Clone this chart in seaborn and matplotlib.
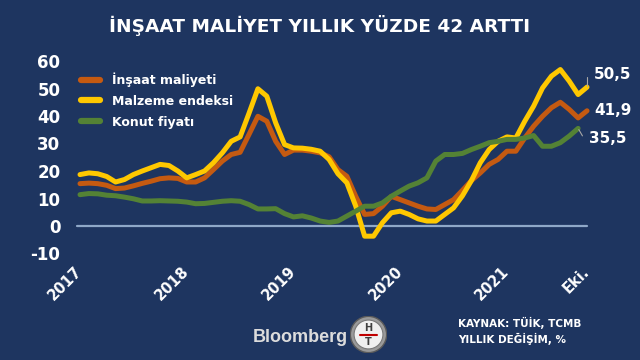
import pandas as pd
import matplotlib.pyplot as plt
import seaborn as sns
from matplotlib.patches import Circle

# =========================
# DATA (yearly % change, Jan 2017 - Oct 2021)
# =========================

insaat_maliyeti = [
    15.4, 15.6, 15.4, 14.8, 13.6, 13.8, 14.6, 15.5, 16.3, 17.2, 17.5, 17.3,
    16.0, 16.0, 17.5, 20.5, 23.6, 26.0, 26.8, 33.3, 39.9, 38.1, 30.8, 26.0,
    27.6, 27.6, 27.2, 26.6, 25.2, 20.5, 18.1, 10.8, 4.2, 4.5, 7.2, 10.8,
    9.6, 8.4, 7.2, 6.2, 6.0, 7.8, 9.6, 13.0, 16.5, 19.3, 22.4, 24.2,
    27.2, 27.2, 32.0, 36.3, 39.9, 43.0, 45.0, 42.4, 39.3, 41.9,
]

malzeme_endeksi = [
    18.7, 19.3, 19.0, 18.0, 16.0, 16.9, 18.7, 20.0, 21.2, 22.4, 22.0, 20.0,
    17.5, 18.7, 20.0, 23.0, 26.6, 30.8, 32.4, 41.0, 49.9, 47.2, 37.5, 29.6,
    28.4, 28.3, 27.9, 27.2, 24.2, 19.0, 15.7, 7.2, -3.7, -3.7, 1.2, 4.8,
    5.4, 4.2, 2.6, 1.8, 1.8, 4.2, 6.6, 11.0, 16.5, 23.0, 27.8, 30.8,
    32.4, 32.0, 38.1, 43.6, 50.2, 54.5, 56.9, 52.7, 47.8, 50.5,
]

# konut fiyatı ends one month earlier (Sep 2021)
konut_fiyati = [
    11.4, 11.8, 11.7, 11.2, 11.0, 10.5, 9.9, 9.1, 9.1, 9.2, 9.1, 9.0,
    8.7, 8.1, 8.2, 8.6, 9.0, 9.2, 9.0, 7.8, 6.2, 6.2, 6.3, 4.5,
    3.3, 3.7, 2.9, 1.8, 1.3, 1.8, 3.6, 5.4, 7.2, 7.2, 8.4, 10.8,
    12.7, 14.5, 15.7, 17.5, 23.6, 26.0, 26.0, 26.4, 27.8, 29.0, 30.3, 30.8,
    31.5, 31.5, 32.0, 32.9, 29.0, 29.0, 30.3, 32.7, 35.5,
]

series_names = ["İnşaat maliyeti", "Malzeme endeksi", "Konut fiyatı"]
series_colors = ["#C55A11", "#FFC800", "#548235"]
end_labels = ["41,9", "50,5", "35,5"]

tick_months = [0, 12, 24, 36, 48, 57]
tick_labels = ["2017", "2018", "2019", "2020", "2021", "Eki."]
y_ticks = [-10, 0, 10, 20, 30, 40, 50, 60]

# =========================
# LONG TABLE FOR SEABORN
# =========================

frames = []
for name, values in zip(series_names, [insaat_maliyeti, malzeme_endeksi, konut_fiyati]):
    frames.append(pd.DataFrame({
        "ay": range(len(values)),
        "deger": values,
        "seri": name,
    }))
df = pd.concat(frames, ignore_index=True)

# =========================
# STYLE
# =========================

bg = "#1E3560"
sns.set_theme(style="dark")
plt.rcParams["font.family"] = ["DejaVu Sans"]
plt.rcParams["axes.unicode_minus"] = False

fig = plt.figure(figsize=(6.4, 3.6), dpi=100, facecolor=bg)
ax = fig.add_axes([70 / 640, 1 - 265 / 360, 530 / 640, 220 / 360])
ax.set_facecolor(bg)

# zero line
ax.axhline(0, xmin=0.013, xmax=0.975, color="#8FA8C8", lw=1.6, zorder=1)

sns.lineplot(
    data=df,
    x="ay",
    y="deger",
    hue="seri",
    hue_order=series_names,
    palette=series_colors,
    linewidth=3.6,
    ax=ax,
    zorder=3,
)

for line in ax.get_lines()[1:]:
    line.set_solid_joinstyle("round")
    line.set_solid_capstyle("round")

# =========================
# AXES
# =========================

ax.set_xlim(-10 / 8.895, 520 / 8.895)
ax.set_ylim((226 - 265) / 2.75, (226 - 45) / 2.75)

ax.set_xticks(tick_months)
ax.set_xticklabels(tick_labels, rotation=45, ha="right", va="center",
                   rotation_mode="anchor")
ax.set_yticks(y_ticks)
ax.set_yticklabels([str(v) for v in y_ticks])

ax.tick_params(axis="y", colors="white", labelsize=12, length=0, pad=7)
ax.tick_params(axis="x", colors="white", labelsize=10.5, length=0, pad=3)
for lab in ax.get_xticklabels() + ax.get_yticklabels():
    lab.set_fontweight("bold")

ax.set_xlabel("")
ax.set_ylabel("")
ax.grid(False)
sns.despine(ax=ax, left=True, bottom=True)

# =========================
# LEGEND
# =========================

sns.move_legend(
    ax,
    loc="upper left",
    bbox_to_anchor=(0.0, 0.926),
    title=None,
    frameon=False,
    labelcolor="white",
    prop={"weight": "bold", "size": 9},
    handlelength=1.5,
    handletextpad=1.0,
    labelspacing=0.62,
)
for h in ax.get_legend().legend_handles:
    h.set_linewidth(4.5)
    h.set_solid_capstyle("round")

# =========================
# END LABELS
# =========================

series_values = [insaat_maliyeti, malzeme_endeksi, konut_fiyati]
offsets = [(5, 0), (5, 9), (8, -7)]
leaders = [None, 90, -60]
for values, text, off, ang in zip(series_values, end_labels, offsets, leaders):
    last = len(values) - 1
    ax.annotate(
        text,
        xy=(last, values[last]),
        xytext=off,
        textcoords="offset points",
        ha="left",
        va="center",
        color="white",
        fontsize=11,
        fontweight="bold",
        annotation_clip=False,
        arrowprops=None if ang is None else dict(
            arrowstyle="-", color="#A6A6A6", lw=0.8,
            shrinkA=3, shrinkB=1,
            connectionstyle=f"angle,angleA=0,angleB={ang},rad=0",
        ),
    )

# =========================
# TITLE AND FOOTER
# =========================

fig.text(0.5, 1 - 25 / 360, "İNŞAAT MALİYET YILLIK YÜZDE 42 ARTTI",
         ha="center", va="center", color="white", fontsize=13.3,
         fontweight="bold")

fig.text(253 / 640, 1 - 342 / 360, "Bloomberg", ha="left", va="baseline",
         color="#DCDCDC", fontsize=13, fontweight="bold",
         family="Liberation Sans")

logo = fig.add_axes([350 / 640, 1 - 353 / 360, 37 / 640, 37 / 360])
logo.set_xlim(-1, 1)
logo.set_ylim(-1, 1)
logo.set_aspect("equal")
logo.axis("off")
logo.add_patch(Circle((0, 0), 0.98, facecolor="#9A9A9A", edgecolor="#5A5A5A", lw=1))
logo.add_patch(Circle((0, 0), 0.78, facecolor="#F0F0F0", edgecolor="#7A7A7A", lw=0.8))
logo.plot([-0.45, 0.45], [0, 0], color="#C00000", lw=1.5)
logo.text(0, 0.35, "H", ha="center", va="center", fontsize=7, fontweight="bold", color="#404040")
logo.text(0, -0.38, "T", ha="center", va="center", fontsize=7, fontweight="bold", color="#404040")

fig.text(458 / 640, 1 - 331 / 360, "KAYNAK: TÜİK, TCMB\nYILLIK DEĞİŞİM, %",
         ha="left", va="center", color="white", fontsize=7.5,
         fontweight="bold", linespacing=1.35)

fig.savefig("out.png", dpi=100, facecolor=bg)
